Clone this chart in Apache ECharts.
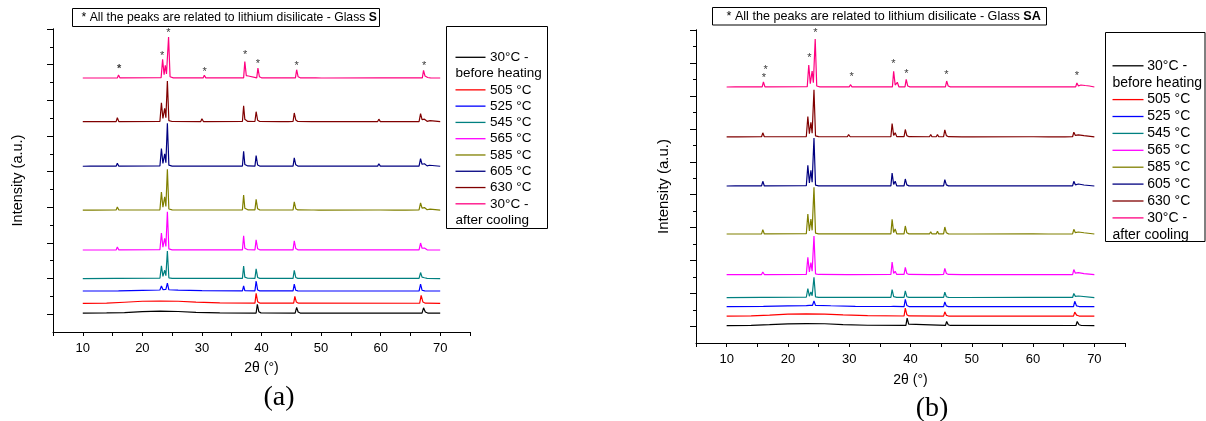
<!DOCTYPE html>
<html><head><meta charset="utf-8">
<script src="https://cdn.jsdelivr.net/npm/echarts@6/dist/echarts.min.js"></script>
<style>html,body{margin:0;padding:0;background:#fff}#c{width:1206px;height:421px}</style>
</head><body><div id="c"></div>
<script>
// ---------- shared labels ----------
const seriesNames = ['30°C - before heating','505 °C','525 °C','545 °C','565 °C','585 °C','605 °C','630 °C','30°C - after cooling'];
const legendLabels = [['30°C -','before heating'],['505 °C'],['525 °C'],['545 °C'],['565 °C'],['585 °C'],['605 °C'],['630 °C'],['30°C -','after cooling']];
const seriesColors = ['#000000','#ff0000','#0000ff','#008080','#ff00ff','#808000','#000080','#800000','#ff0080'];
const xTickLabels = [10,20,30,40,50,60,70];
const yMajorA = [0,1000,2000,3000,4000,5000,6000,7000,8000];
const yMinorA = [500,1500,2500,3500,4500,5500,6500,7500];
const yMajorB = [0,1000,2000,3000,4000,5000,6000,7000,8000,9000];
const yMinorB = [500,1500,2500,3500,4500,5500,6500,7500,8500];

// ---------- Glass S (panel a) : [2theta, intensity] ----------
const aBefore = [[10,30],[14,34],[17,45],[20,70],[23,86],[26,75],[29,50],[33,36],[39.1,32],[39.3,274],[39.55,70],[39.9,36],[45.65,32],[45.9,190],[46.15,60],[46.5,32],[66.95,30],[67.2,178],[67.5,60],[67.9,32],[70,30]];
const a505 = [[10,305],[14,310],[17,335],[20,362],[23,370],[26,362],[29,340],[33,318],[38.9,310],[39.1,585],[39.35,350],[39.7,312],[45.4,308],[45.6,501],[45.85,340],[46.2,308],[66.55,306],[66.8,529],[67.1,340],[67.5,308],[70,305]];
const a525 = [[10,650],[16,655],[20,668],[22.95,678],[23.2,790],[23.45,690],[23.75,730],[23.95,695],[24.2,874],[24.45,685],[26,675],[30,662],[36.8,656],[37.0,790],[37.2,660],[38.9,654],[39.1,930],[39.35,680],[39.7,655],[45.3,652],[45.5,846],[45.75,670],[46.1,652],[66.45,650],[66.7,846],[66.95,672],[67.4,653],[70,650]];
const a545 = [[10,1000],[15.6,1003],[15.8,1056],[16.0,1003],[22.95,1008],[23.2,1353],[23.45,1060],[23.75,1232],[23.95,1080],[24.2,1773],[24.45,1020],[25,1005],[29.8,1003],[30.0,1056],[30.25,1003],[36.8,1005],[37.0,1353],[37.2,1040],[37.45,1042],[37.7,1008],[38.9,1005],[39.1,1272],[39.35,1030],[39.7,1005],[43.1,1003],[43.3,1028],[43.5,1003],[44.2,1003],[44.4,1028],[44.6,1003],[45.3,1005],[45.5,1232],[45.75,1030],[46.1,1005],[59.5,1003],[59.7,1042],[59.95,1003],[66.45,1003],[66.7,1168],[66.95,1040],[67.35,1022],[67.8,1006],[70,1000]];
const a565 = [[10,1800],[11.3,1801],[11.5,1828],[11.7,1801],[15.6,1802],[15.8,1884],[16.05,1802],[22.95,1808],[23.2,2276],[23.45,1880],[23.75,2128],[23.95,1900],[24.2,2872],[24.45,1830],[25,1805],[29.8,1803],[30.0,1856],[30.25,1803],[36.8,1805],[37.0,2200],[37.2,1850],[37.45,1856],[37.7,1808],[38.9,1805],[39.1,2088],[39.35,1835],[39.7,1805],[43.1,1803],[43.3,1856],[43.5,1803],[44.1,1803],[44.3,1856],[44.5,1803],[45.3,1805],[45.5,2060],[45.75,1840],[46.1,1805],[48.4,1802],[48.6,1842],[48.8,1802],[59.5,1803],[59.7,1856],[59.95,1803],[66.45,1803],[66.7,1996],[66.95,1850],[67.35,1856],[67.8,1806],[70,1800]];
const a585 = [[10,2920],[11.3,2921],[11.5,2962],[11.7,2921],[15.6,2922],[15.8,3004],[16.05,2922],[22.95,2928],[23.2,3424],[23.45,3000],[23.75,3292],[23.95,3020],[24.2,4068],[24.45,2950],[25,2925],[29.8,2923],[30.0,2976],[30.25,2923],[36.8,2925],[37.0,3340],[37.2,2970],[37.45,2976],[37.7,2928],[38.9,2925],[39.1,3220],[39.35,2955],[39.7,2925],[43.1,2923],[43.3,2962],[43.5,2923],[44.1,2923],[44.3,2976],[44.5,2923],[45.3,2925],[45.5,3152],[45.75,2960],[46.1,2925],[48.4,2922],[48.6,2962],[48.8,2922],[49.6,2921],[49.8,2948],[50.0,2921],[59.5,2923],[59.7,2976],[59.95,2923],[62.3,2921],[62.5,2948],[62.7,2921],[63.8,2921],[64.0,2948],[64.2,2921],[66.45,2923],[66.7,3124],[66.95,2975],[67.35,2990],[67.8,2930],[68.3,2948],[68.6,2922],[70,2920]];
const a605 = [[10,4150],[11.3,4151],[11.5,4178],[11.7,4151],[15.6,4152],[15.8,4234],[16.05,4152],[22.95,4158],[23.2,4646],[23.45,4230],[23.75,4497],[23.95,4250],[24.2,5354],[24.45,4180],[25,4155],[29.8,4153],[30.0,4206],[30.25,4153],[36.8,4155],[37.0,4570],[37.2,4200],[37.45,4206],[37.7,4158],[38.9,4155],[39.1,4450],[39.35,4185],[39.7,4155],[43.1,4153],[43.3,4206],[43.5,4153],[44.1,4153],[44.3,4192],[44.5,4153],[45.3,4155],[45.5,4385],[45.75,4190],[46.1,4155],[48.4,4152],[48.6,4192],[48.8,4152],[49.6,4151],[49.8,4178],[50.0,4151],[59.5,4153],[59.7,4220],[59.95,4153],[62.3,4151],[62.5,4178],[62.7,4151],[66.45,4153],[66.7,4366],[66.95,4205],[67.35,4220],[67.8,4160],[68.2,4178],[68.5,4152],[70,4150]];
const a630 = [[10,5400],[11.3,5401],[11.5,5428],[11.7,5401],[15.6,5402],[15.8,5512],[16.05,5402],[22.95,5408],[23.2,5932],[23.45,5490],[23.75,5775],[23.95,5510],[24.2,6540],[24.45,5430],[25,5405],[29.8,5403],[30.0,5484],[30.25,5403],[36.8,5405],[37.0,5848],[37.2,5465],[37.45,5470],[37.7,5408],[38.9,5405],[39.1,5680],[39.35,5440],[39.7,5405],[43.1,5403],[43.3,5456],[43.5,5403],[44.1,5403],[44.3,5456],[44.5,5403],[45.3,5405],[45.5,5644],[45.75,5450],[46.1,5405],[48.4,5402],[48.6,5442],[48.8,5402],[49.6,5401],[49.8,5428],[50.0,5401],[59.5,5403],[59.7,5470],[59.95,5403],[62.3,5401],[62.5,5428],[62.7,5401],[63.8,5401],[64.0,5428],[64.2,5401],[66.45,5403],[66.7,5624],[66.95,5460],[67.35,5470],[67.8,5410],[68.3,5428],[68.6,5402],[70,5400]];
const aAfter = [[10,6625],[11.4,6626],[11.6,6653],[11.8,6626],[15.8,6627],[16.0,6709],[16.25,6627],[23.15,6633],[23.4,7149],[23.65,6720],[23.85,6981],[24.05,6740],[24.4,7773],[24.65,6660],[25.2,6630],[30.2,6628],[30.4,6701],[30.65,6628],[37.0,6630],[37.2,7090],[37.45,6690],[37.8,6681],[38.05,6632],[39.2,6630],[39.4,6905],[39.65,6660],[40,6630],[43.3,6627],[43.5,6681],[43.7,6627],[44.4,6627],[44.6,6681],[44.8,6627],[45.7,6630],[45.9,6857],[46.15,6660],[46.5,6630],[48.7,6627],[48.9,6667],[49.1,6627],[50.1,6626],[50.3,6653],[50.5,6626],[60.0,6628],[60.2,6681],[60.45,6628],[67.0,6628],[67.2,6841],[67.45,6680],[67.65,6695],[67.9,6640],[68.1,6681],[68.35,6628],[70,6625]];
const starsA = [[16.1,6877],[23.34,7250],[24.35,7879],[30.46,6801],[37.26,7278],[39.38,7009],[45.9,6961],[67.3,6970]];

// ---------- Glass SA (panel b) ----------
const bBefore = [[10,30],[14,36],[17,55],[20,80],[23,91],[26,85],[29,60],[33,38],[39.25,32],[39.45,255],[39.7,70],[40.0,35],[45.7,32],[45.9,151],[46.15,55],[46.5,32],[67.0,31],[67.2,151],[67.5,55],[67.9,31],[70,30]];
const b505 = [[10,316],[14,322],[17,345],[20,375],[23,386],[26,378],[29,352],[33,328],[38.95,320],[39.15,559],[39.4,360],[39.75,322],[45.4,318],[45.6,446],[45.85,340],[46.2,318],[66.6,317],[66.8,437],[67.1,345],[67.5,318],[70,316]];
const b525 = [[10,605],[16,610],[20,628],[23.0,636],[23.25,696],[23.5,640],[24.0,640],[24.25,775],[24.5,642],[27,630],[31,612],[36.8,608],[37.0,666],[37.2,610],[38.95,607],[39.15,827],[39.4,640],[39.75,607],[45.4,606],[45.6,745],[45.85,625],[46.2,606],[66.6,606],[66.8,766],[67.1,625],[67.5,607],[70,605]];
const b545 = [[10,880],[15.7,882],[15.9,926],[16.1,882],[23.0,888],[23.25,1153],[23.5,920],[23.75,1053],[23.95,935],[24.25,1496],[24.5,900],[25,885],[29.7,882],[29.9,941],[30.15,882],[36.8,884],[37.0,1123],[37.25,905],[37.5,941],[37.75,886],[38.95,884],[39.15,1083],[39.4,905],[39.75,884],[43.1,882],[43.3,926],[43.5,882],[44.2,882],[44.4,926],[44.6,882],[45.4,884],[45.6,1041],[45.85,905],[46.2,884],[48.4,881],[48.6,910],[48.8,881],[59.6,882],[59.8,926],[60.05,882],[66.45,882],[66.65,1001],[66.9,915],[67.4,926],[67.7,884],[70,880]];
const b565 = [[10,1576],[11.4,1577],[11.6,1606],[11.8,1577],[15.7,1578],[15.9,1655],[16.15,1578],[23.0,1584],[23.25,2101],[23.5,1660],[23.75,1940],[23.95,1680],[24.25,2747],[24.5,1600],[25,1580],[29.7,1578],[29.9,1637],[30.15,1578],[36.8,1580],[37.0,1958],[37.25,1610],[37.5,1676],[37.75,1582],[38.95,1580],[39.15,1798],[39.4,1610],[39.75,1580],[43.1,1578],[43.3,1637],[43.5,1578],[44.2,1578],[44.4,1637],[44.6,1578],[45.4,1580],[45.6,1767],[45.85,1610],[46.2,1580],[48.4,1577],[48.6,1622],[48.8,1577],[49.6,1577],[49.8,1622],[50.0,1577],[59.6,1578],[59.8,1637],[60.05,1578],[66.45,1578],[66.65,1728],[66.9,1620],[67.4,1637],[67.7,1580],[68.3,1606],[68.6,1577],[70,1576]];
const b585 = [[10,2808],[11.4,2809],[11.6,2838],[11.8,2809],[15.7,2810],[15.9,2942],[16.15,2810],[23.0,2816],[23.25,3415],[23.5,2900],[23.75,3263],[23.95,2920],[24.25,4225],[24.5,2835],[25,2812],[29.7,2810],[29.9,2869],[30.15,2810],[36.8,2812],[37.0,3254],[37.25,2850],[37.5,2960],[37.75,2815],[38.95,2812],[39.15,3051],[39.4,2845],[39.75,2812],[43.1,2810],[43.3,2878],[43.5,2810],[44.2,2810],[44.4,2890],[44.6,2810],[45.4,2812],[45.6,3020],[45.85,2845],[46.2,2812],[48.4,2809],[48.6,2854],[48.8,2809],[49.6,2809],[49.8,2854],[50.0,2809],[59.6,2810],[59.8,2869],[60.05,2810],[62.5,2809],[62.7,2838],[62.9,2809],[63.8,2809],[64.0,2838],[64.2,2809],[64.8,2809],[65.0,2838],[65.2,2809],[66.45,2810],[66.65,2951],[66.9,2850],[67.4,2869],[67.7,2812],[68.3,2847],[68.6,2809],[70,2808]];
const b605 = [[10,4265],[11.4,4266],[11.6,4304],[11.8,4266],[15.7,4267],[15.9,4408],[16.15,4267],[23.0,4273],[23.25,4893],[23.5,4360],[23.75,4741],[23.95,4380],[24.25,5722],[24.5,4290],[25,4269],[29.7,4267],[29.9,4326],[30.15,4267],[36.8,4269],[37.0,4660],[37.25,4310],[37.5,4408],[37.75,4272],[38.95,4269],[39.15,4477],[39.4,4300],[39.75,4269],[43.1,4267],[43.3,4317],[43.5,4267],[44.2,4267],[44.4,4317],[44.6,4267],[45.4,4269],[45.6,4459],[45.85,4300],[46.2,4269],[48.4,4266],[48.6,4310],[48.8,4266],[49.6,4266],[49.8,4304],[50.0,4266],[59.6,4267],[59.8,4326],[60.05,4267],[62.5,4266],[62.7,4295],[62.9,4266],[64.3,4266],[64.5,4295],[64.7,4266],[66.45,4267],[66.65,4408],[66.9,4300],[67.4,4326],[67.7,4269],[68.3,4295],[68.6,4266],[70,4265]];
const b630 = [[10,5758],[11.4,5759],[11.6,5804],[11.8,5759],[15.7,5760],[15.9,5879],[16.15,5760],[23.0,5766],[23.25,6374],[23.5,5850],[23.75,6201],[23.95,5870],[24.25,7184],[24.5,5785],[25,5762],[26.3,5760],[26.5,5790],[26.7,5760],[29.7,5760],[29.9,5828],[30.15,5760],[36.8,5762],[37.0,6162],[37.25,5800],[37.5,5879],[37.75,5765],[38.95,5762],[39.15,5980],[39.4,5795],[39.75,5762],[43.1,5760],[43.3,5828],[43.5,5760],[44.2,5760],[44.4,5828],[44.6,5760],[45.4,5762],[45.6,5970],[45.85,5795],[46.2,5762],[48.4,5759],[48.6,5804],[48.8,5759],[49.6,5759],[49.8,5797],[50.0,5759],[59.6,5760],[59.8,5819],[60.05,5760],[62.5,5759],[62.7,5788],[62.9,5759],[63.8,5759],[64.0,5788],[64.2,5759],[64.8,5759],[65.0,5788],[65.2,5759],[66.45,5760],[66.65,5898],[66.9,5800],[67.4,5819],[67.7,5762],[68.3,5797],[68.6,5759],[70,5758]];
const bAfter = [[10,7270],[11.4,7271],[11.6,7300],[11.8,7271],[15.8,7272],[16.0,7422],[16.25,7272],[23.15,7278],[23.4,7938],[23.65,7370],[23.95,7756],[24.15,7400],[24.45,8727],[24.7,7300],[25.2,7275],[30.0,7272],[30.2,7340],[30.45,7272],[37.05,7275],[37.25,7746],[37.5,7330],[37.85,7413],[38.1,7276],[39.1,7274],[39.3,7504],[39.55,7300],[39.9,7274],[43.3,7271],[43.5,7315],[43.7,7271],[44.3,7271],[44.5,7315],[44.7,7271],[45.7,7274],[45.9,7452],[46.15,7300],[46.5,7273],[48.8,7271],[49.0,7331],[49.2,7271],[50.0,7271],[50.2,7315],[50.4,7271],[60.0,7272],[60.2,7331],[60.45,7272],[66.95,7273],[67.15,7391],[67.4,7300],[67.8,7331],[68.05,7275],[68.5,7315],[68.75,7272],[69.2,7300],[69.4,7271],[70,7270]];
const starsB = [[16.08,7543],[16.35,7786],[23.5,8150],[24.5,8921],[30.4,7564],[37.2,7980],[39.33,7664],[45.87,7634],[67.13,7616]];

const noteA = '* All the peaks are related to lithium disilicate - Glass ';
const noteBoldA = 'S';
const noteB = '* All the peaks are related to lithium disilicate - Glass ';
const noteBoldB = 'SA';

// ---------- build ----------
const SANS = '"Liberation Sans", Arial, sans-serif';
const SERIF = '"Liberation Serif", "Times New Roman", serif';
const panelA = [aBefore,a505,a525,a545,a565,a585,a605,a630,aAfter];
const panelB = [bBefore,b505,b525,b545,b565,b585,b605,b630,bAfter];

function xAx(g, gap){
  return {type:'value', gridIndex:g, min:5, max:75, interval:5,
    name:'2θ (°)', nameLocation:'middle', nameGap:gap,
    nameTextStyle:{fontSize:14, color:'#000', fontFamily:SANS},
    axisLine:{show:true, onZero:false, lineStyle:{color:'#000', width:1}},
    axisTick:{show:true, length:4, lineStyle:{color:'#000', width:1}},
    axisLabel:{fontSize:13, color:'#000', fontFamily:SANS, margin:10,
      formatter: v => xTickLabels.indexOf(v) >= 0 ? String(v) : ''},
    splitLine:{show:false}};
}
function yAx(g, min, max, ticks, len, name, gap, fs){
  const o = {type:'value', gridIndex:g, min:min, max:max, position:'left',
    axisLine:{show:true, onZero:false, lineStyle:{color:'#000', width:1}},
    axisTick:{show:true, length:len, customValues:ticks, lineStyle:{color:'#000', width:1}},
    axisLabel:{show:false}, splitLine:{show:false}};
  if (name) { o.name = name; o.nameLocation = 'middle'; o.nameGap = gap;
    o.nameTextStyle = {fontSize:fs, color:'#000', fontFamily:SANS}; }
  return o;
}
const series = [];
function addPanel(data, xi, yi, stars){
  data.forEach((d, i) => series.push({type:'line', name:seriesNames[i], xAxisIndex:xi, yAxisIndex:yi,
    data:d, showSymbol:false, symbol:'none', lineStyle:{width:1.2, color:seriesColors[i]},
    itemStyle:{color:seriesColors[i]}, silent:true, z:2}));
  series.push({type:'scatter', xAxisIndex:xi, yAxisIndex:yi, symbolSize:2,
    itemStyle:{color:'rgba(0,0,0,0)'}, silent:true, z:5,
    data: stars.map((s, k) => ({value:s, label:{fontWeight:(xi===0 && k===0)?'bold':'normal'}})),
    labelLayout:{hideOverlap:false},
    label:{show:true, position:'inside', formatter:'*', fontSize:11, color:'#000', fontFamily:SANS, offset:[0,3]}});
}
addPanel(panelA, 0, 0, starsA);
addPanel(panelB, 1, 2, starsB);

const graphic = [];
function legendBox(bx, by, bw, bh, lx1, lx2, tx, y0, dy, fs){
  graphic.push({type:'rect', shape:{x:bx, y:by, width:bw, height:bh}, style:{fill:'#fff', stroke:'#000', lineWidth:1}, z:10});
  let row = 0;
  legendLabels.forEach((lab, i) => {
    const y = y0 + row*dy;
    graphic.push({type:'line', shape:{x1:lx1, y1:y, x2:lx2, y2:y}, style:{stroke:seriesColors[i], lineWidth:1.3}, z:11});
    graphic.push({type:'text', x:tx, y:y, style:{text:lab[0], font:fs+'px '+SANS, fill:'#000', align:'left', verticalAlign:'middle'}, z:11});
    row++;
    if (lab[1]) {
      graphic.push({type:'text', x:lx1, y:y0 + row*dy, style:{text:lab[1], font:fs+'px '+SANS, fill:'#000', align:'left', verticalAlign:'middle'}, z:11});
      row++;
    }
  });
}
legendBox(446.5, 26.5, 101, 202, 455.5, 485.5, 490, 57.3, 16.28, 13.5);
legendBox(1105.5, 32.5, 99.5, 209, 1112.5, 1143.5, 1147.3, 65.8, 16.9, 14);

function noteBox(bx, by, bw, bh, tx, ty, txt, bold, fs){
  graphic.push({type:'rect', shape:{x:bx, y:by, width:bw, height:bh}, style:{fill:'#fff', stroke:'#000', lineWidth:1}, z:10});
  graphic.push({type:'text', x:tx, y:ty, style:{text:'{n|'+txt+'}{b|'+bold+'}', fill:'#000', align:'left', verticalAlign:'middle',
    rich:{n:{fontSize:fs, fontFamily:SANS, color:'#000'}, b:{fontSize:fs, fontFamily:SANS, fontWeight:'bold', color:'#000'}}}, z:11});
}
noteBox(72.5, 8.5, 307, 18, 81.5, 17.8, noteA, noteBoldA, 12.2);
noteBox(712.5, 7.5, 334, 17.5, 726.5, 16.5, noteB, noteBoldB, 12.6);

graphic.push({type:'text', x:279, y:398, style:{text:'(a)', font:'28px '+SERIF, fill:'#000', align:'center', verticalAlign:'middle'}});
graphic.push({type:'text', x:932, y:409, style:{text:'(b)', font:'28px '+SERIF, fill:'#000', align:'center', verticalAlign:'middle'}});

const chart = echarts.init(document.getElementById('c'), null, {renderer:'canvas'});
chart.setOption({
  animation:false,
  backgroundColor:'#fff',
  grid:[{left:53, top:29, width:417, height:303}, {left:696, top:30, width:429, height:313}],
  xAxis:[xAx(0, 29), xAx(1, 30)],
  yAxis:[yAx(0,-500,8000,yMajorA,6,'Intensity (a.u.)',28,14.5), yAx(0,-500,8000,yMinorA,3),
         yAx(1,-500,9000,yMajorB,6,'Intensity (a.u.)',25,15), yAx(1,-500,9000,yMinorB,3)],
  series: series,
  graphic: graphic
});
</script></body></html>
